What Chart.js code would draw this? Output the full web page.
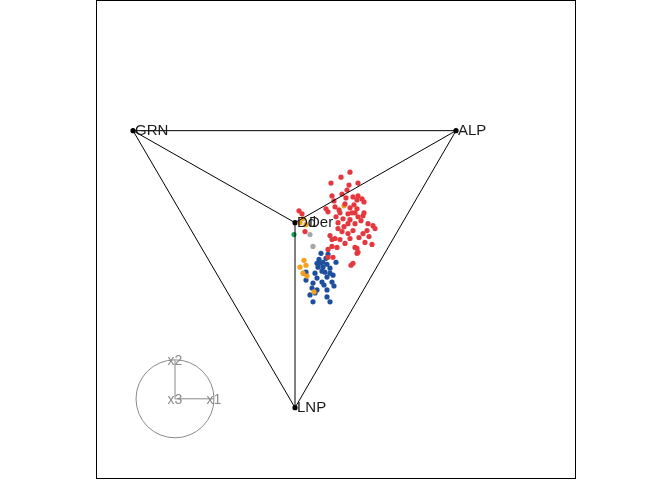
<!DOCTYPE html>
<html lang="en">
<head>
    <meta charset="UTF-8">
    <title>Ternary biplot</title>
    <script src="https://cdn.jsdelivr.net/npm/chart.js"></script>
    <style>
        body { margin: 0; padding: 0; background: #fff; }
        #wrap { width: 672px; height: 480px; }
    </style>
</head>
<body>
    <div id="wrap"><canvas id="plot" width="672" height="480"></canvas></div>
    <script>
        // vertices of the triangle and the centre point
        const vertexNames = ['GRN', 'ALP', 'LNP'];
        const vertexX = [-2.03, 1.20, -0.41];
        const vertexY = [1.105, 1.105, -1.695];
        const centreNames = ['Dd', 'Der'];
        const centreShift = [2, 14];
        const centreX = -0.41;
        const centreY = 0.175;

        // sample points by group
        const redX = [0.14, 0.05, -0.05, 0.13, 0.22, -0.04, 0.06, 0.22, 0.26, 0.21, 0.28, -0.10, -0.08, -0.01, 0.03, 0.09, 0.14, 0.18, 0.21, 0.28,
                      0.16, 0.04, 0.12, 0.19, 0.22, 0.27, 0.07, 0.02, 0.12, 0.19, 0.32, 0.37, 0.02, 0.06, 0.12, 0.17, 0.31, 0.23, -0.01, 0.09,
                      0.29, 0.19, -0.08, -0.04, 0.22, -0.06, -0.04, 0.01, -0.08, -0.03, 0.17, 0.15, 0.21, 0.21, -0.37, -0.34, -0.31, 0.10, 0.14, 0.25,
                      0.08, 0.27, 0.04, 0.14, 0.39, 0.00, 0.17, 0.33, 0.36, 0.11, -0.02];
        const redY = [0.685, 0.635, 0.575, 0.555, 0.575, 0.445, 0.465, 0.445, 0.415, 0.405, 0.385, 0.315, 0.285, 0.335, 0.305, 0.365, 0.325, 0.355, 0.315, 0.275,
                      0.275, 0.275, 0.265, 0.275, 0.235, 0.245, 0.215, 0.175, 0.165, 0.165, 0.165, 0.145, 0.115, 0.085, 0.065, 0.095, 0.095, 0.025, 0.015, -0.035,
                      -0.025, -0.075, -0.095, -0.065, -0.125, 0.045, 0.005, -0.075, -0.175, -0.175, -0.235, -0.255, -0.085, -0.135, 0.295, 0.265, 0.085, 0.425, 0.205, 0.195,
                      0.135, 0.065, 0.005, 0.015, 0.115, 0.235, 0.435, 0.035, -0.045, 0.505, 0.395];
        const blueX = [-0.15, -0.19, -0.16, -0.13, -0.09, -0.18, -0.13, -0.06, -0.14, -0.11, -0.30, -0.21, -0.06, -0.19, -0.09, -0.03, -0.23, -0.14, -0.04, -0.24,
                       -0.09, -0.19, -0.02, -0.23, -0.09, -0.06, -0.21, -0.30, -0.32, -0.08, -0.17, -0.10, 0.00, -0.12, -0.26];
        const blueY = [-0.135, -0.235, -0.235, -0.225, -0.245, -0.275, -0.275, -0.285, -0.315, -0.325, -0.325, -0.335, -0.335, -0.385, -0.375, -0.355, -0.435, -0.425, -0.425, -0.485,
                       -0.505, -0.505, -0.465, -0.625, -0.575, -0.625, -0.535, -0.405, -0.335, -0.145, -0.195, -0.185, -0.225, -0.455, -0.555];
        const orangeX = [-0.32, -0.30, -0.36, -0.33, -0.29, -0.22, 0.08, -0.33, -0.36, -0.30];
        const orangeY = [-0.205, -0.255, -0.275, -0.335, -0.365, -0.525, 0.345, 0.215, 0.175, 0.155];
        const greenX = [-0.42];
        const greenY = [0.055];
        const grayX = [-0.26, -0.23];
        const grayY = [0.055, -0.065];

        // small axis key in the lower left
        const keyCentre = [-1.61, -1.605];
        const keyRadius = 0.39;
        const keyNames = ['x1', 'x2', 'x3'];
        const keyEndX = [0.39, 0, 0];
        const keyEndY = [0, 0.39, 0];

        const pts = (xs, ys) => xs.map((x, i) => ({ x: x, y: ys[i] }));
        const seg = (i) => [{ x: vertexX[i], y: vertexY[i] }, { x: vertexX[(i + 1) % 3], y: vertexY[(i + 1) % 3] }];
        const spoke = (i) => [{ x: vertexX[i], y: vertexY[i] }, { x: centreX, y: centreY }];

        function lineSet(data) {
            return { type: 'line', data: data, borderColor: '#000', borderWidth: 1, pointRadius: 0, fill: false, showLine: true };
        }
        function dotSet(data, color) {
            return { type: 'scatter', data: data, backgroundColor: color, borderWidth: 0, pointRadius: 2.6 };
        }

        // frame, key circle and text labels
        const extras = {
            id: 'extras',
            afterDatasetsDraw(chart) {
                const ctx = chart.ctx;
                const sx = chart.scales.x, sy = chart.scales.y;
                const a = chart.chartArea;
                ctx.save();
                ctx.strokeStyle = '#000';
                ctx.lineWidth = 1;
                ctx.strokeRect(Math.round(a.left) + 0.5, 0.5, Math.round(a.right - a.left) - 1, 478);

                // key
                const cx = sx.getPixelForValue(keyCentre[0]);
                const cy = sy.getPixelForValue(keyCentre[1]);
                const r = sx.getPixelForValue(keyCentre[0] + keyRadius) - cx;
                ctx.strokeStyle = '#8a8a8a';
                ctx.beginPath();
                ctx.arc(cx, cy, r, 0, Math.PI * 2);
                ctx.stroke();
                ctx.font = '14px "Liberation Sans", Arial, sans-serif';
                ctx.fillStyle = '#8a8a8a';
                ctx.textAlign = 'center';
                ctx.textBaseline = 'middle';
                keyNames.forEach((n, i) => {
                    const ex = sx.getPixelForValue(keyCentre[0] + keyEndX[i]);
                    const ey = sy.getPixelForValue(keyCentre[1] + keyEndY[i]);
                    ctx.beginPath();
                    ctx.moveTo(cx, cy);
                    ctx.lineTo(ex, ey);
                    ctx.stroke();
                    ctx.fillText(n, ex, ey + 1);
                });

                // vertex labels
                ctx.font = '15px "Liberation Sans", Arial, sans-serif';
                ctx.fillStyle = '#1a1a1a';
                ctx.textAlign = 'left';
                vertexNames.forEach((n, i) => {
                    ctx.fillText(n, sx.getPixelForValue(vertexX[i]) + 2, sy.getPixelForValue(vertexY[i]));
                });
                centreNames.forEach((n, i) => {
                    ctx.fillText(n, sx.getPixelForValue(centreX) + centreShift[i], sy.getPixelForValue(centreY));
                });
                ctx.restore();
            }
        };

        new Chart(document.getElementById('plot'), {
            type: 'scatter',
            data: {
                datasets: [
                    lineSet(seg(0)), lineSet(seg(1)), lineSet(seg(2)),
                    lineSet(spoke(0)), lineSet(spoke(1)), lineSet(spoke(2)),
                    dotSet(pts(grayX, grayY), '#a3a7ab'),
                    dotSet(pts(greenX, greenY), '#1aa35a'),
                    dotSet(pts(redX, redY), '#e5383e'),
                    dotSet(pts(orangeX, orangeY), '#f5a019'),
                    dotSet(pts(blueX, blueY), '#1d4f9e'),
                    dotSet(pts(vertexX, vertexY), '#000'),
                    dotSet([{ x: centreX, y: centreY }], '#000')
                ]
            },
            options: {
                responsive: false,
                animation: false,
                layout: { padding: { left: 96, right: 96, top: 1, bottom: 2 } },
                plugins: { legend: { display: false }, tooltip: { enabled: false } },
                scales: {
                    x: { type: 'linear', min: -2.4, max: 2.4, display: false },
                    y: { type: 'linear', min: -2.385, max: 2.385, display: false }
                }
            },
            plugins: [extras]
        });
    </script>
</body>
</html>
